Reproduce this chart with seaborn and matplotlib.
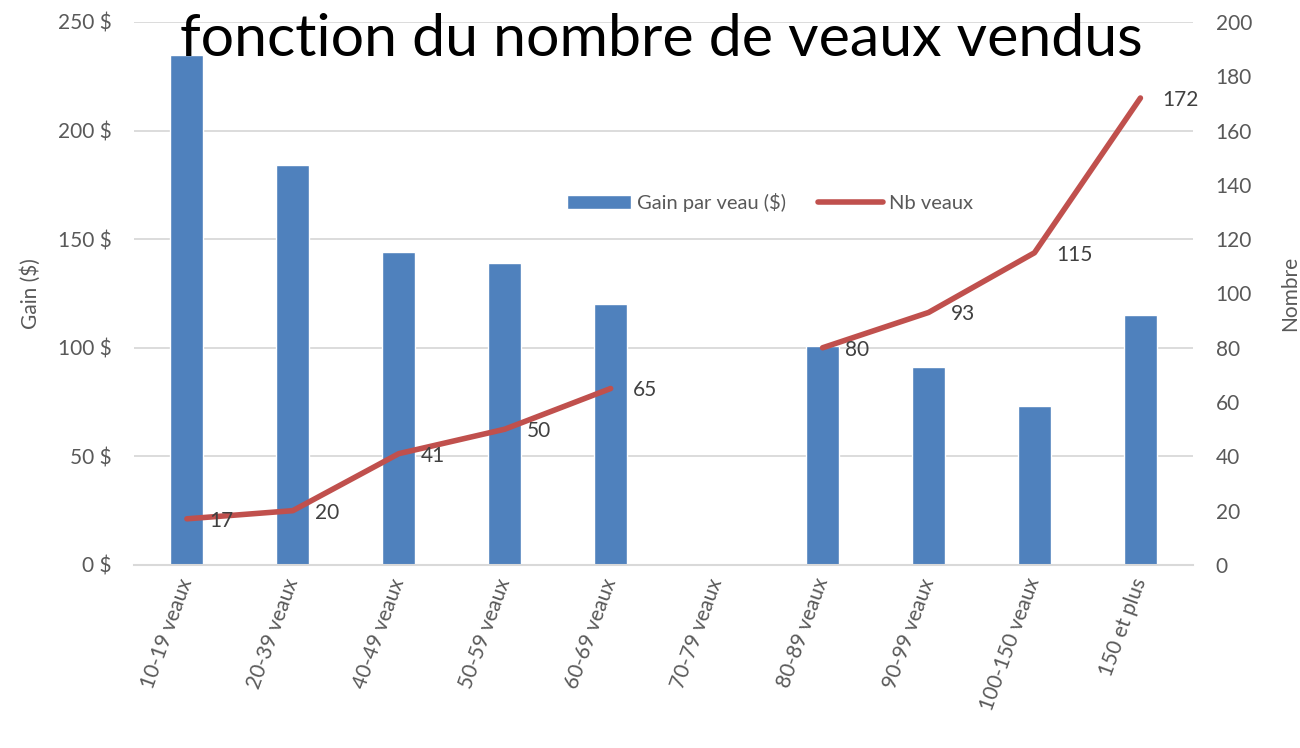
import numpy as np
import pandas as pd
import matplotlib
matplotlib.use("Agg")
import matplotlib.pyplot as plt
import seaborn as sns
from matplotlib.ticker import FuncFormatter

categories = ["10-19 veaux", "20-39 veaux", "40-49 veaux", "50-59 veaux", "60-69 veaux",
              "70-79 veaux", "80-89 veaux", "90-99 veaux", "100-150 veaux", "150 et plus"]
gain = [235, 184, 144, 139, 120, np.nan, 101, 91, 73, 115]
nb_veaux = [17, 20, 41, 50, 65, np.nan, 80, 93, 115, 172]

BLUE = "#4F81BD"
RED = "#C0504D"
GRID = "#D9D9D9"
TICK = "#595959"
FS = 15

sns.set_theme(style="white")
plt.rcParams["font.family"] = ["Lato", "DejaVu Sans"]

df = pd.DataFrame({"cat": categories, "gain": gain, "nb": nb_veaux})

fig = plt.figure(figsize=(13, 7.48), dpi=100)
ax = fig.add_axes([0.103, 0.2447, 0.815, 0.7259])
x = np.arange(len(categories))

sns.barplot(data=df, x="cat", y="gain", color=BLUE, width=0.31, saturation=1,
            ax=ax, zorder=2, label="Gain par veau ($)")
if ax.get_legend() is not None:
    ax.get_legend().remove()
ax.set_xlim(-0.5, len(categories) - 0.5)
ax.set_ylim(0, 250)
ax.set_yticks(np.arange(0, 251, 50))
ax.yaxis.set_major_formatter(FuncFormatter(lambda v, p: f"{v:.0f} $"))
ax.yaxis.grid(True, color=GRID, linewidth=1.3, zorder=0)
ax.set_axisbelow(True)
for s in ["top", "right", "left"]:
    ax.spines[s].set_visible(False)
ax.spines["bottom"].set_color(GRID)
ax.spines["bottom"].set_linewidth(1.5)
ax.set_xlabel("")
ax.set_ylabel("Gain ($)", fontsize=FS, color=TICK, labelpad=12)
ax.tick_params(axis="y", length=0, labelsize=FS, labelcolor=TICK, pad=16)
ax.tick_params(axis="x", length=0, labelsize=FS, labelcolor=TICK, pad=10)
plt.setp(ax.get_xticklabels(), rotation=70, ha="right", va="center", rotation_mode="anchor")

ax2 = ax.twinx()
ax2.plot(x, df["nb"], color=RED, linewidth=4, solid_capstyle="round", zorder=3, label="Nb veaux")
ax2.set_ylim(0, 200)
ax2.set_yticks(np.arange(0, 201, 20))
for s in ["top", "right", "left", "bottom"]:
    ax2.spines[s].set_visible(False)
ax2.tick_params(axis="y", length=0, labelsize=FS, labelcolor=TICK, pad=16)
ax2.set_ylabel("Nombre", fontsize=FS, color=TICK, labelpad=20)
ax2.grid(False)

for xi, v in zip(x, nb_veaux):
    if not np.isnan(v):
        ax2.annotate(f"{v:.0f}", (xi, v), xytext=(22, -2), textcoords="offset pixels",
                     ha="left", va="center", fontsize=FS, color="#404040")

h1, l1 = ax.get_legend_handles_labels()
h2, l2 = ax2.get_legend_handles_labels()
leg = ax2.legend(h1 + h2, l1 + l2, loc="center", bbox_to_anchor=(0.6, 0.667), ncol=2,
                 frameon=False, fontsize=14.5, handlelength=3.2, columnspacing=1.6, handletextpad=0.3)
for t in leg.get_texts():
    t.set_color(TICK)

fig.text(0.5085, 0.947, "fonction du nombre de veaux vendus", ha="center", va="center",
         fontsize=42.5, color="black")

fig.savefig("out.png", dpi=100)
